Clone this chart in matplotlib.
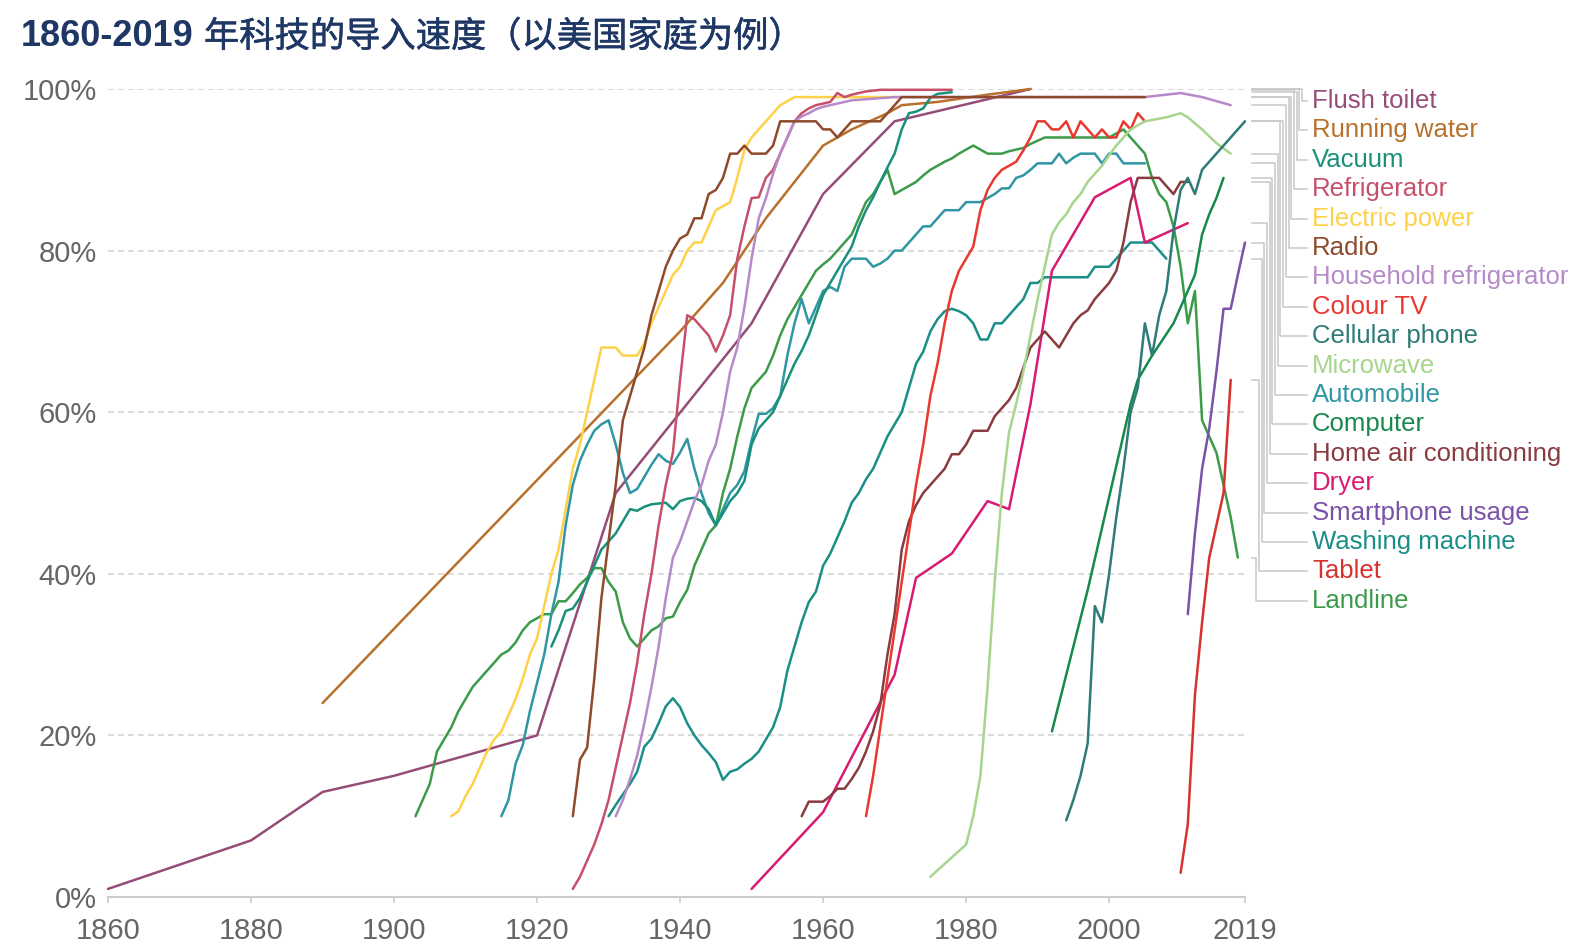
import matplotlib
matplotlib.use('Agg')
import matplotlib.pyplot as plt
import matplotlib.patheffects as pe
from matplotlib.lines import Line2D

plt.rcParams['font.family'] = ['Liberation Sans', 'Noto Sans CJK SC', 'DejaVu Sans']

# ---- data (share of US households, %) ----
flush_years = [1860, 1880, 1890, 1900, 1920, 1931, 1950, 1960, 1970, 1989]
flush_vals = [1, 7, 13, 15, 20, 50, 71, 87, 96, 100]

water_years = [1890, 1940, 1946, 1952, 1960, 1964, 1969, 1971, 1976, 1983, 1989]
water_vals = [24, 70, 76, 84, 93, 95, 97, 98, 98.4, 99.3, 100]

vacuum_years = list(range(1922, 1977)) + [1978]
vacuum_vals = [31, 33, 35.4, 35.7, 37, 39, 41, 43, 44, 45,
               46.5, 48, 47.8, 48.3, 48.6, 48.7, 48.8, 48, 49, 49.3,
               49.4, 49, 48, 46, 47.5, 49, 50, 51.5, 56, 58,
               59, 60, 62, 64, 66, 67.6, 69.5, 72, 74.5, 76,
               77.5, 79, 80.5, 83, 85, 86.6, 88.5, 90.3, 92, 95,
               97, 97.2, 97.6, 98.9, 99.4, 99.6]

fridge_years = list(range(1925, 1967)) + [1968, 1978]
fridge_vals = [1, 2.5, 4.5, 6.5, 9, 12, 16, 20, 24, 29,
               35, 40, 46, 51, 55, 64, 72, 71.5, 70.5, 69.5,
               67.5, 69.5, 72, 79, 83, 86.5, 86.6, 89, 90, 92,
               94, 96, 97, 97.6, 98, 98.2, 98.4, 99.5, 99, 99.3,
               99.5, 99.7, 99.9, 99.9]

power_years = list(range(1908, 1957)) + [1971]
power_vals = [10, 10.6, 12.5, 14, 16, 18, 19.5, 20.5, 22.5, 24.5,
              27, 30, 32, 36, 40, 43, 48, 53, 56, 60,
              64, 68, 68, 68, 67, 67, 67, 68.5, 71, 73,
              75, 77, 78, 80, 81, 81, 83, 85, 85.5, 86,
              89, 92.5, 94, 95, 96, 97, 98, 98.5, 99, 99]

radio_years = list(range(1925, 1972)) + [2005]
radio_vals = [10, 17, 18.5, 27, 37, 44, 51, 59, 62, 65,
              68, 72, 75, 78, 80, 81.5, 82, 84, 84, 87,
              87.5, 89, 92, 92, 93, 92, 92, 92, 93, 96,
              96, 96, 96, 96, 96, 95, 95, 94, 95, 96,
              96, 96, 96, 96, 97, 98, 99, 99]

hh_fridge_years = list(range(1931, 1961)) + [1962, 1964, 1970, 2005, 2010, 2013, 2017]
hh_fridge_vals = [10, 12, 14.6, 17.5, 21.5, 26, 31, 37, 42, 44,
                  46.5, 49, 51, 54, 56, 60, 65, 68, 73, 79,
                  84, 86.5, 89.5, 92, 94, 96, 96.6, 97, 97.5, 97.8,
                  98.2, 98.6, 99, 99, 99.5, 99, 98]

tv_years = list(range(1966, 2006))
tv_vals = [10, 15, 21, 27, 33, 39, 45, 51, 56, 62,
           66, 71, 75, 77.5, 79, 80.5, 85, 87.5, 89, 90,
           90.5, 91, 92.4, 94, 96, 96, 95, 95, 96, 94,
           96, 95, 94, 95, 94, 94, 96, 95, 97, 96]

cell_years = list(range(1994, 2020))
cell_vals = [9.5, 12, 15, 19, 36, 34, 40, 47, 53, 60,
             63, 71, 67, 72, 75, 82.5, 87.5, 89, 87, 90,
             91, 92, 93, 94, 95, 96]

micro_years = [1975] + list(range(1980, 2006)) + [2008, 2010, 2011, 2013, 2015, 2017]
micro_vals = [2.5,
              6.5, 10, 15, 26, 39, 50, 57.5, 61, 65, 69.5,
              74, 78, 82, 83.5, 84.5, 86, 87, 88.5, 89.5, 90.5,
              91.8, 93, 94, 95, 95.5, 96,
              96.5, 97, 96.5, 95, 93.3, 92]

auto_years = list(range(1915, 2006))
auto_vals = [10, 12, 16.5, 18.8, 23, 26.5, 30, 35, 39, 46,
             51, 54, 56, 57.7, 58.5, 59, 56, 52.5, 50, 50.5,
             52, 53.5, 54.8, 54, 53.6, 55, 56.7, 53, 50, 47.5,
             46, 48, 50, 51, 52.7, 56.5, 59.8, 59.8, 60.5, 62,
             67, 71, 74, 71, 73, 75, 75.5, 75, 78, 79,
             79, 79, 78, 78.4, 79, 80, 80, 81, 82, 83,
             83, 84, 85, 85, 85, 86, 86, 86, 86.5, 87,
             87.7, 87.7, 89, 89.3, 90, 90.8, 90.8, 90.8, 92, 90.8,
             91.5, 92, 92, 92, 90.8, 92, 92, 90.8, 90.8, 90.8,
             90.8]

comp_years = [1992, 1997, 2003, 2004, 2006, 2009, 2011, 2012, 2013, 2014, 2015, 2016]
comp_vals = [20.5, 38, 61, 64, 67, 71, 75, 77, 82, 84.5, 86.5, 89]

ac_years = list(range(1957, 2012))
ac_vals = [10, 11.8, 11.8, 11.8, 12.5, 13.4, 13.4, 14.6, 16, 18,
           20.5, 23.8, 30, 35, 43, 46.5, 48.5, 50, 51, 52,
           53, 54.8, 54.8, 56, 57.7, 57.7, 57.7, 59.5, 60.5, 61.5,
           63, 65.5, 68, 69, 70, 69, 68, 69.5, 71, 72,
           72.6, 74, 75, 76, 77.5, 81, 86, 89, 89, 89,
           89, 88, 87, 88.5, 88.5]

dryer_years = [1950, 1960, 1970, 1973, 1978, 1983, 1986, 1989, 1992, 1998, 2003, 2005, 2011]
dryer_vals = [1, 10.5, 27.5, 39.5, 42.5, 49, 48, 61, 77.5, 86.6, 89, 81, 83.4]

smart_years = list(range(2011, 2020))
smart_vals = [35, 45, 53, 58, 65, 72.8, 72.8, 77, 81]

wash_years = list(range(1930, 2009))
wash_vals = [10, 11.4, 12.7, 14, 15.5, 18.6, 19.6, 21.5, 23.6, 24.6,
             23.5, 21.5, 20, 18.8, 17.8, 16.7, 14.5, 15.5, 15.8, 16.5,
             17.1, 18, 19.5, 21, 23.5, 28, 31, 34, 36.5, 37.8,
             41, 42.5, 44.5, 46.5, 48.8, 50, 51.7, 53, 55, 57,
             58.5, 60, 63, 66, 67.5, 70, 71.5, 72.5, 72.8, 72.5,
             72, 71, 69, 69, 71, 71, 72, 73, 74, 76,
             76, 76.7, 76.7, 76.7, 76.7, 76.7, 76.7, 76.7, 78, 78,
             78, 79, 80, 81, 81, 81, 81, 80, 79]

tablet_years = list(range(2010, 2018))
tablet_vals = [3, 9, 25, 34, 42, 46, 50, 64]

landline_years = list(range(1903, 2019))
landline_vals = [10, 12, 14, 18, 19.5, 21, 23, 24.5, 26, 27,
                 28, 29, 30, 30.5, 31.5, 33, 34, 34.5, 35, 35,
                 36.6, 36.6, 37.6, 38.7, 39.5, 40.7, 40.7, 39, 37.8, 34,
                 32, 31, 32, 33, 33.5, 34.5, 34.7, 36.5, 38, 41,
                 43, 45, 46, 50, 53, 57, 60.5, 63, 64, 65,
                 67, 69.5, 71.5, 73, 74.5, 76, 77.5, 78.3, 79, 80,
                 81, 82, 84, 86, 87, 88.5, 90, 87, 87.5, 88,
                 88.5, 89.3, 90, 90.5, 91, 91.4, 92, 92.5, 93, 92.5,
                 92, 92, 92, 92.3, 92.5, 92.7, 93.2, 93.6, 94, 94,
                 94, 94, 94, 94, 94, 94, 94, 94, 94.5, 95,
                 94, 93, 92, 89, 87, 86, 83, 78, 71, 75,
                 59, 57, 55, 51, 47, 42]

# legend order (top to bottom) with colours
series = [
    ('Flush toilet', flush_years, flush_vals, '#954d78'),
    ('Running water', water_years, water_vals, '#b8712c'),
    ('Vacuum', vacuum_years, vacuum_vals, '#18907a'),
    ('Refrigerator', fridge_years, fridge_vals, '#c6506c'),
    ('Electric power', power_years, power_vals, '#fed14a'),
    ('Radio', radio_years, radio_vals, '#8e4a2b'),
    ('Household refrigerator', hh_fridge_years, hh_fridge_vals, '#b68ac8'),
    ('Colour TV', tv_years, tv_vals, '#e8382f'),
    ('Cellular phone', cell_years, cell_vals, '#2e7b77'),
    ('Microwave', micro_years, micro_vals, '#a6d58d'),
    ('Automobile', auto_years, auto_vals, '#2f97a3'),
    ('Computer', comp_years, comp_vals, '#168a4c'),
    ('Home air conditioning', ac_years, ac_vals, '#8a3b40'),
    ('Dryer', dryer_years, dryer_vals, '#d81b72'),
    ('Smartphone usage', smart_years, smart_vals, '#7a52a8'),
    ('Washing machine', wash_years, wash_vals, '#1a8e88'),
    ('Tablet', tablet_years, tablet_vals, '#d6322e'),
    ('Landline', landline_years, landline_vals, '#3b9b48'),
]

# draw order: older technologies first, radio over the refrigerator plateau
draw_order = ['Flush toilet', 'Running water', 'Landline', 'Electric power', 'Automobile',
              'Vacuum', 'Refrigerator', 'Washing machine', 'Household refrigerator', 'Radio',
              'Dryer', 'Home air conditioning', 'Colour TV', 'Microwave', 'Computer',
              'Cellular phone', 'Tablet', 'Smartphone usage']

W, H = 1572, 944
fig = plt.figure(figsize=(W / 100, H / 100), dpi=100)
ax = fig.add_axes([108 / W, 1 - 897 / H, (1245 - 108) / W, (897 - 89) / H])

lookup = {s[0]: s for s in series}
for name in draw_order:
    _, yrs, vals, col = lookup[name]
    ax.plot(yrs, vals, color=col, lw=1.8, solid_joinstyle='round',
            solid_capstyle='round', clip_on=False, zorder=3)

ax.set_xlim(1860, 2019)
ax.set_ylim(0, 100)

xticks = [1860, 1880, 1900, 1920, 1940, 1960, 1980, 2000, 2019]
yticks = [0, 20, 40, 60, 80, 100]
ax.set_xticks(xticks)
ax.set_xticklabels([str(x) for x in xticks])
ax.set_yticks(yticks)
ax.set_yticklabels([f'{y}%' for y in yticks])

ax.yaxis.grid(True, linestyle=(0, (3.5, 2.5)), color='#d4d4d4', lw=1.2)
ax.set_axisbelow(True)
for sp in ['top', 'right', 'left']:
    ax.spines[sp].set_visible(False)
ax.spines['bottom'].set_color('#cccccc')
ax.spines['bottom'].set_linewidth(1.5)

ax.tick_params(axis='x', direction='out', length=4.5, width=1.2, color='#cccccc',
               labelsize=21, labelcolor='#666666', pad=10)
ax.tick_params(axis='y', length=0, labelsize=21, labelcolor='#666666', pad=8)

# title
title_color = '#1e3764'
fig.text(21 / W, 1 - 37 / H, '1860-2019', fontsize=26, fontweight='bold',
         color=title_color, va='center', ha='left', family='Liberation Sans')
fig.text(204 / W, 1 - 37 / H, '年科技的导入速度（以美国家庭为例）', fontsize=25.4,
         color=title_color, va='center', ha='left',
         family=['Noto Sans CJK SC', 'DejaVu Sans'],
         path_effects=[pe.withStroke(linewidth=0.4, foreground=title_color)])

# right-hand labels with elbow connectors
inv = fig.transFigure.inverted()
for i, (name, yrs, vals, col) in enumerate(series):
    y_end = inv.transform(ax.transData.transform((2019, vals[-1])))[1]
    y_lab = 1 - (101 + i * 29.4) / H
    xk = (1302 - i * 2.7) / W
    xs = [1252 / W, xk, xk, 1307 / W]
    ys = [y_end, y_end, y_lab, y_lab]
    fig.add_artist(Line2D(xs, ys, transform=fig.transFigure, color='#c8c8c8', lw=1.1, zorder=1))
    fig.text(1312 / W, y_lab, name, fontsize=18.5, color=col, va='center', ha='left')

fig.savefig('out.png', dpi=100)
